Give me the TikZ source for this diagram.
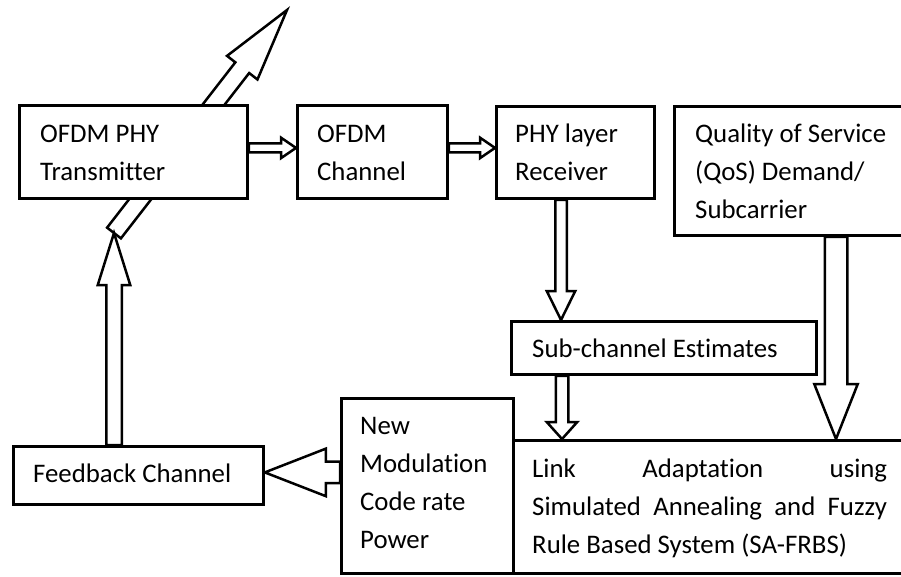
\documentclass[tikz,border=0pt]{standalone}
\usepackage{fontspec}
\setmainfont{Carlito}[Ligatures=NoCommon]
\usetikzlibrary{calc}
\pgfdeclarelayer{bg}
\pgfsetlayers{bg,main}
\newcommand\blockarrow[5]{%
  \draw[barrow] let \p1=(#1), \p2=(#2),
    \n1={atan2(\y2-\y1,\x2-\x1)}, \n2={veclen(\x2-\x1,\y2-\y1)}, \n3={\n2-#5pt} in
    ($(\p1)+(\n1+90:#3pt)$) -- ($(\p1)+(\n1:\n3)+(\n1+90:#3pt)$)
    -- ($(\p1)+(\n1:\n3)+(\n1+90:#4pt)$) -- (\p2)
    -- ($(\p1)+(\n1:\n3)+(\n1-90:#4pt)$) -- ($(\p1)+(\n1:\n3)+(\n1-90:#3pt)$)
    -- ($(\p1)+(\n1-90:#3pt)$) -- cycle;}
\tikzset{
  box/.style={draw, line width=2.8pt, fill=white, inner sep=0pt, anchor=north west},
  txt/.style={inner sep=0pt, anchor=base west, align=left, font=\fontsize{26.8}{38}\selectfont},
  barrow/.style={draw, fill=white, line width=2.5pt, line join=miter}
}
\begin{document}
\begin{tikzpicture}[x=1pt, y=-1pt]
\useasboundingbox (0,0) rectangle (901,576);
\clip (0,0) rectangle (901,576);
% boxes
\node[box, minimum width=228pt, minimum height=93pt] (tx) at (18,104) {};
\node[box, minimum width=150pt, minimum height=93pt] (ch) at (296,104) {};
\node[box, minimum width=158pt, minimum height=92pt] (rx) at (495,105) {};
\node[box, minimum width=240pt, minimum height=129pt] (qos) at (673,105) {};
\node[box, minimum width=305pt, minimum height=53pt] (se) at (510,320) {};
\node[box, minimum width=250pt, minimum height=58pt] (fb) at (12,445) {};
\node[box, minimum width=172pt, minimum height=175pt] (nm) at (340,397) {};
\node[box, minimum width=400pt, minimum height=133pt] (la) at (512,439) {};
% texts (anchor = baseline of the last line)
\node[txt] (txt-tx) at (40,180) {OFDM PHY\\Transmitter};
\node[txt] (txt-ch) at (317,180) {OFDM\\Channel};
\node[txt] (txt-rx) at (515,180) {PHY layer\\Receiver};
\node[txt] (txt-qos) at (695,218) {Quality of Service\\(QoS) Demand/\\Subcarrier};
\node[txt] (txt-se) at (532,357) {Sub-channel Estimates};
\node[txt] (txt-fb) at (33,482) {Feedback Channel};
\node[txt] (txt-nm) at (360,548) {New\\Modulation\\Code rate\\Power};
\node[txt] (txt-la) at (532,553) {\makebox[355pt][s]{Link Adaptation using}\\\makebox[355pt][s]{Simulated Annealing and Fuzzy}\\Rule Based System (SA-FRBS)};
% connector end points
\coordinate (tail) at (114,233);
\coordinate (ant) at (287,10);
\begin{pgfonlayer}{bg}
\fill[white] (0,0) rectangle (901,576);
\blockarrow{tail}{ant}{8.75}{19.25}{73}
\blockarrow{$(fb.north west)+(102,0)$}{tail}{7.75}{16.25}{52}
\blockarrow{$(tx.east)+(0,-4)$}{$(ch.west)+(0,-4)$}{4.5}{10.25}{15}
\blockarrow{$(ch.east)+(0,-4)$}{$(rx.west)+(0,-4.5)$}{4.5}{10.25}{15}
\blockarrow{$(rx.south west)+(66,0)$}{$(se.north west)+(51,0)$}{5.75}{14.25}{29}
\blockarrow{$(se.south west)+(52,0)$}{$(la.north west)+(50,0)$}{6.25}{15.25}{17}
\blockarrow{$(qos.south west)+(163,0)$}{$(la.north west)+(324,0)$}{11.25}{21.75}{55}
\blockarrow{$(nm.west)+(0,-13.5)$}{$(fb.east)+(0,-3)$}{10.75}{23.75}{61}
\end{pgfonlayer}
\end{tikzpicture}
\end{document}
